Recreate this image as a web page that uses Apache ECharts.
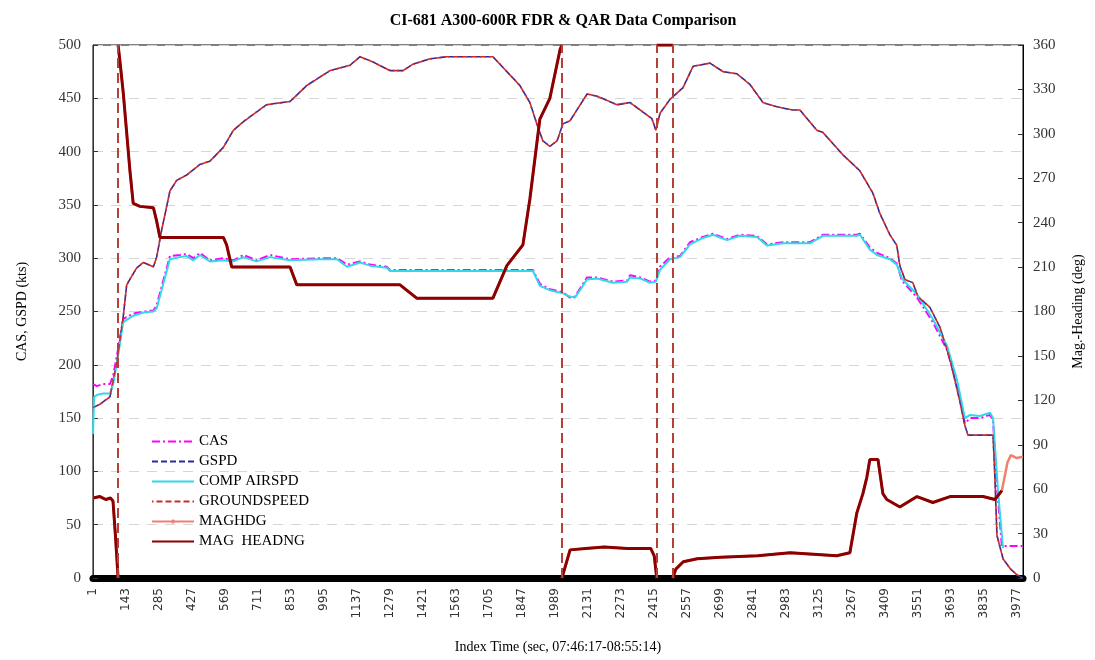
<!DOCTYPE html>
<html>
<head>
<meta charset="utf-8">
<script src="https://cdn.jsdelivr.net/npm/echarts@6/dist/echarts.min.js"></script>
<style>
  html, body { margin: 0; padding: 0; background: #fff; }
  #chart { width: 1095px; height: 660px; }
</style>
</head>
<body>
<div id="chart"></div>
<script>
// ── data: [index time, value] ──
const gspd = [[1,160],[30,163],[73,170],[102,202],[130,245],[145,275],[188,291],[217,296],[260,292],[274,301],[296,327],[331,363],[360,373],[403,378],[460,388],[503,391],[561,404],[604,420],[647,428],[690,435],[747,444],[848,447],[920,462],[1020,476],[1106,481],[1149,489],[1205,484],[1278,476],[1334,476],[1377,482],[1450,487],[1523,489],[1721,489],[1781,475],[1837,462],[1880,446],[1910,426],[1936,410],[1966,405],[1997,410],[2022,426],[2053,429],[2126,454],[2169,452],[2255,444],[2311,446],[2367,437],[2405,431],[2422,420],[2440,436],[2483,449],[2539,460],[2582,480],[2655,483],[2711,475],[2771,473],[2827,463],[2883,446],[2943,442],[3012,439],[3042,439],[3115,420],[3141,418],[3227,397],[3300,382],[3356,361],[3386,342],[3429,322],[3459,312],[3472,293],[3494,280],[3528,277],[3550,264],[3601,254],[3645,235],[3688,205],[3731,165],[3752,143],[3765,134],[3873,134],[3880,100],[3890,40],[3916,18],[3950,8],[3976,3],[4000,0]];

const cas = [[1,182],[16,180],[44,182],[73,182],[87,190],[109,216],[130,243],[173,248],[217,250],[260,251],[274,256],[331,302],[374,303],[403,304],[432,300],[460,305],[503,298],[561,300],[604,298],[647,303],[704,298],[762,303],[848,299],[977,300],[1050,300],[1093,294],[1149,297],[1192,294],[1264,292],[1278,289],[1407,289],[1695,289],[1893,289],[1923,276],[1966,271],[2022,268],[2053,263],[2074,264],[2126,282],[2169,282],[2238,278],[2298,279],[2311,284],[2354,282],[2397,278],[2422,279],[2440,292],[2483,301],[2526,302],[2569,315],[2625,320],[2668,323],[2728,318],[2784,322],[2857,321],[2900,313],[2969,315],[3085,315],[3141,322],[3287,322],[3300,323],[3343,310],[3374,305],[3429,300],[3459,295],[3481,279],[3546,263],[3614,240],[3675,214],[3718,181],[3752,145],[3774,150],[3817,150],[3860,153],[3873,148],[3890,86],[3911,30],[4000,30]];

const compAirspd = [[0,135],[5,170],[20,172],[44,173],[73,173],[87,182],[109,210],[130,240],[173,246],[217,249],[260,250],[274,253],[331,299],[374,301],[403,302],[432,298],[460,303],[503,297],[561,298],[604,297],[647,301],[704,297],[762,301],[848,298],[977,299],[1050,299],[1093,292],[1149,296],[1192,293],[1264,291],[1278,288],[1407,288],[1695,288],[1893,288],[1923,274],[1966,270],[2022,267],[2053,264],[2074,263],[2126,280],[2169,281],[2238,277],[2298,278],[2311,282],[2354,281],[2397,277],[2422,278],[2440,289],[2483,299],[2526,301],[2569,313],[2625,319],[2668,322],[2728,317],[2784,321],[2857,320],[2900,312],[2969,314],[3085,314],[3141,321],[3287,321],[3300,322],[3343,308],[3374,303],[3429,299],[3459,294],[3481,281],[3546,266],[3614,243],[3675,218],[3718,186],[3752,150],[3774,153],[3817,152],[3860,155],[3873,150],[3895,80],[3916,28]];

// heading wraps 0/360 -> line broken there, wrap drawn as dashed verticals
const heading = [[1,54],[30,55],[55,53],[75,54],[86,52],[96,30],[108,0],[108,null],
  [108,360],[118,346],[130,328],[159,275],[173,253],[202,251],[260,250],[274,241],[288,230],[561,230],[575,225],[597,210],[848,210],[877,198],[1321,198],[1393,189],[1721,189],[1781,211],[1850,225],[1880,256],[1923,310],[1966,324],[2010,357],[2018,360],[2018,null],
  [2018,0],[2053,19],[2120,20],[2200,21],[2300,20],[2400,20],[2415,15],[2426,0],[2426,null],
  [2426,360],[2495,360],[2495,null],
  [2495,0],[2508,6],[2540,11],[2600,13],[2700,14],[2860,15],[3000,17],[3100,16],[3200,15],[3257,17],[3287,44],[3313,57],[3330,68],[3343,80],[3378,80],[3399,57],[3416,53],[3472,48],[3546,55],[3614,51],[3688,55],[3830,55],[3881,53],[3911,59]];
const maghdgTail = [[3920,66],[3935,78],[3950,83],[3975,81],[4002,82]];
const headingWraps = [108, 2018, 2426, 2495];

const SERIF = "'Liberation Serif', 'DejaVu Serif', serif";
const SANS = "'DejaVu Sans', Verdana, sans-serif";
const NAMES = ["CAS", "GSPD", "COMP AIRSPD", "GROUNDSPEED", "MAGHDG", "MAG  HEADNG"];

function line(name, data, color, width, type, extra) {
  return Object.assign({
    name, type: "line", data, symbol: "none", showSymbol: false,
    lineStyle: { color, width, type }, itemStyle: { color },
    connectNulls: false, silent: true, animation: false,
  }, extra || {});
}

const chart = echarts.init(document.getElementById("chart"), null, { renderer: "canvas" });
chart.setOption({
  backgroundColor: "#fff",
  animation: false,
  title: {
    text: "CI-681 A300-600R FDR & QAR Data Comparison",
    left: 558, top: 8, textAlign: "center",
    textStyle: { fontFamily: SERIF, fontSize: 16, fontWeight: "bold", color: "#000" },
  },
  grid: { left: 93, right: 72, top: 45, bottom: 82, show: true, borderColor: "#000", borderWidth: 1 },
  // legend: only the line sample, symbol hidden (except the small diamond of MAGHDG)
  legend: {
    orient: "vertical", left: 146, top: 428, itemGap: 3, itemWidth: 42, itemHeight: 6,
    itemStyle: { opacity: 0 },
    textStyle: { fontFamily: SERIF, fontSize: 15, color: "#000", lineHeight: 17 },
    data: NAMES.map((n) => n === "MAGHDG" ? { name: n, itemStyle: { opacity: 1 } } : n),
  },
  xAxis: {
    type: "value", min: 0, max: 4002, interval: 142,
    name: "Index Time (sec, 07:46:17-08:55:14)", nameLocation: "middle", nameGap: 62,
    nameTextStyle: { fontFamily: SERIF, fontSize: 14, color: "#000" },
    axisLine: { onZero: false, lineStyle: { color: "#000", width: 7 } },
    axisTick: { show: false },
    splitLine: { show: false },
    axisLabel: {
      rotate: 90, margin: 10, fontFamily: SANS, fontSize: 12, color: "#333",
      showMaxLabel: false, formatter: (v) => String(v + 1),
    },
  },
  yAxis: [{
    type: "value", min: 0, max: 500, interval: 50,
    name: "CAS, GSPD (kts)", nameLocation: "middle", nameGap: 64, nameRotate: 90,
    nameTextStyle: { fontFamily: SERIF, fontSize: 14, color: "#000" },
    axisLine: { show: true, lineStyle: { color: "#333" } },
    axisTick: { show: true, inside: true, length: 5, lineStyle: { color: "#333" } },
    axisLabel: { fontFamily: SERIF, fontSize: 15, color: "#333", margin: 12 },
    splitLine: { show: true, lineStyle: { color: "#d6d6d6", type: [10, 8] } },
  }, {
    type: "value", min: 0, max: 360, interval: 30, position: "right",
    name: "Mag.-Heading (deg)", nameLocation: "middle", nameGap: 48, nameRotate: 90,
    nameTextStyle: { fontFamily: SERIF, fontSize: 14, color: "#000" },
    axisLine: { show: true, lineStyle: { color: "#000" } },
    axisTick: { show: true, inside: true, length: 5, lineStyle: { color: "#333" } },
    axisLabel: { fontFamily: SERIF, fontSize: 15, color: "#333", margin: 10 },
    splitLine: { show: false },
  }],
  series: [
    line("CAS", cas, "#ff00ff", 2, [8, 3, 2, 3]),
    line("GSPD", gspd, "#2a2aa0", 1.6, [6, 3]),
    line("COMP AIRSPD", compAirspd, "#30d8e8", 2, "solid"),
    line("GROUNDSPEED", gspd, "#cc2a2a", 1.6, [6, 3], { lineStyle: { color: "#cc2a2a", width: 1.6, type: [6, 3], dashOffset: 4.5 } }),
    line("MAGHDG", heading.concat(maghdgTail), "#f08070", 2.5, "solid", {
      yAxisIndex: 1, symbol: "diamond", symbolSize: 5,
    }),
    line("MAG  HEADNG", heading, "#8b0000", 3, "solid", {
      yAxisIndex: 1,
      markLine: {
        silent: true, symbol: "none", animation: false,
        label: { show: false },
        lineStyle: { color: "#b5403a", width: 2, type: [10, 5] },
        data: headingWraps.map((x) => ({ xAxis: x })),
      },
    }),
  ],
});
</script>
</body>
</html>
